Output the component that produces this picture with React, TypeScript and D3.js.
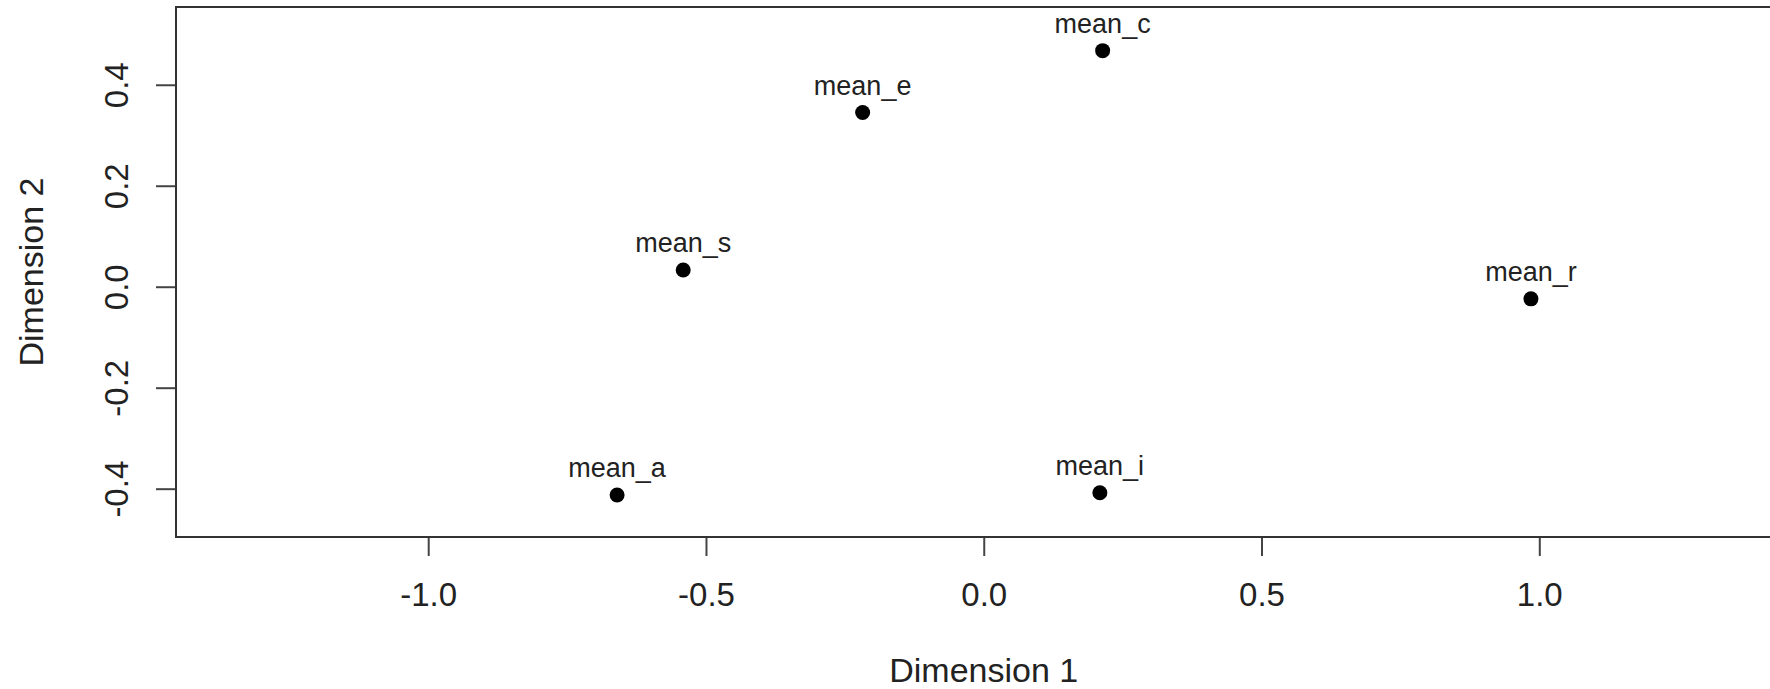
import React, { useEffect, useRef } from 'react'
import * as d3 from 'd3'

// MDS coordinates
const labels = ['mean_c', 'mean_e', 'mean_s', 'mean_r', 'mean_a', 'mean_i']
const dim1 = [0.214, -0.218, -0.541, 0.985, -0.66, 0.209]
const dim2 = [0.4675, 0.345, 0.033, -0.024, -0.4125, -0.408]

const xTicks = [-1.0, -0.5, 0.0, 0.5, 1.0]
const yTicks = [-0.4, -0.2, 0.0, 0.2, 0.4]

const width = 1770
const height = 689
const font = '"Liberation Sans", Arial, sans-serif'

export default function App() {
  const ref = useRef<SVGSVGElement>(null)

  useEffect(() => {
    const svg = d3.select(ref.current)
    svg.selectAll('*').remove()

    // plot region (right edge runs off the page, as in the original crop)
    const left = 176
    const top = 7
    const bottom = 537
    const right = 1791.5

    const x = d3.scaleLinear().domain([-1.454, 1.454]).range([left, right])
    const y = d3.scaleLinear().domain([-0.4957, 0.554]).range([bottom, top])

    const fmt = (d: d3.NumberValue) => (+d).toFixed(1)

    // x axis
    const gx = svg
      .append('g')
      .attr('transform', `translate(0,${bottom})`)
      .call(
        d3
          .axisBottom(x)
          .tickValues(xTicks)
          .tickSize(19)
          .tickPadding(50)
          .tickFormat(fmt)
      )
    gx.select('.domain').remove()
    gx.selectAll('line').attr('stroke', '#444').attr('stroke-width', 2)
    gx.selectAll('text')
      .attr('dy', null)
      .attr('y', 69)
      .attr('font-family', font)
      .attr('font-size', 33)
      .attr('fill', '#222')

    // y axis, labels rotated like R's las=0
    const gy = svg
      .append('g')
      .attr('transform', `translate(${left},0)`)
      .call(d3.axisLeft(y).tickValues(yTicks).tickSize(20).tickFormat(fmt))
    gy.select('.domain').remove()
    gy.selectAll('line').attr('stroke', '#444').attr('stroke-width', 2)
    gy.selectAll('text')
      .attr('x', null)
      .attr('dy', null)
      .attr('text-anchor', 'middle')
      .attr('transform', `translate(${128 - left},0) rotate(-90)`)
      .attr('font-family', font)
      .attr('font-size', 33)
      .attr('fill', '#222')

    // box
    svg
      .append('rect')
      .attr('x', left)
      .attr('y', top)
      .attr('width', right - left)
      .attr('height', bottom - top)
      .attr('fill', 'none')
      .attr('stroke', '#333')
      .attr('stroke-width', 2)

    // axis titles
    svg
      .append('text')
      .attr('x', (left + right) / 2)
      .attr('y', 682)
      .attr('text-anchor', 'middle')
      .attr('font-family', font)
      .attr('font-size', 34)
      .attr('fill', '#222')
      .text('Dimension 1')

    svg
      .append('text')
      .attr('transform', `translate(43,${(top + bottom) / 2}) rotate(-90)`)
      .attr('text-anchor', 'middle')
      .attr('font-family', font)
      .attr('font-size', 34)
      .attr('fill', '#222')
      .text('Dimension 2')

    // points + labels
    const pts = svg
      .append('g')
      .selectAll('g')
      .data(labels.map((l, i) => ({ l, x: dim1[i], y: dim2[i] })))
      .enter()
      .append('g')

    pts
      .append('circle')
      .attr('cx', d => x(d.x))
      .attr('cy', d => y(d.y))
      .attr('r', 7.5)
      .attr('fill', '#000')

    pts
      .append('text')
      .attr('x', d => x(d.x))
      .attr('y', d => y(d.y) - 18)
      .attr('text-anchor', 'middle')
      .attr('font-family', font)
      .attr('font-size', 27)
      .attr('fill', '#222')
      .text(d => d.l)
  }, [])

  return (
    <svg
      ref={ref}
      width={width}
      height={height}
      style={{ position: 'absolute', left: 0, top: 0, background: '#fff' }}
    />
  )
}
